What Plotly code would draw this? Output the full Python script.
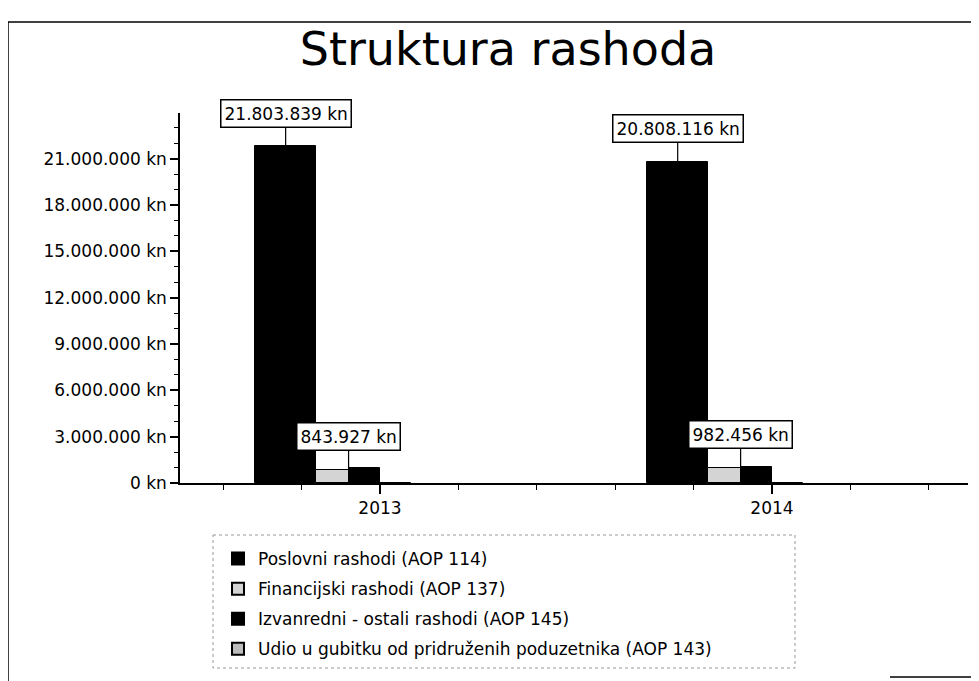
import plotly.graph_objects as go

# data
years = ["2013", "2014"]
series_names = [
    "Poslovni rashodi (AOP 114)",
    "Financijski rashodi (AOP 137)",
    "Izvanredni - ostali rashodi (AOP 145)",
    "Udio u gubitku od pridruženih poduzetnika (AOP 143)",
]
poslovni = [21803839, 20808116]
financijski = [843927, 982456]
izvanredni = [950000, 1050000]
udio = [0, 0]
y_tick_step = 3000000

FONT = "DejaVu Sans"


def kn(v):
    return f"{v:,.0f}".replace(",", ".") + " kn"


x_pos = list(range(len(years)))

# bar look: colour, offset and width (in category units)
bar_style = [
    ("#000000", -0.318, 0.155),
    ("#d4d4d4", -0.162, 0.082),
    ("#000000", -0.080, 0.080),
    ("#bdbdbd", 0.000, 0.080),
]

fig = go.Figure()
for name, vals, (color, off, w) in zip(series_names, [poslovni, financijski, izvanredni, udio], bar_style):
    fig.add_trace(go.Bar(
        x=x_pos, y=vals, name=name, legendgroup=name,
        offset=off, width=w,
        marker=dict(color=color, line=dict(color="#000000", width=1)),
    ))

# value labels (boxed, with a leader line)
ann = []
for i in x_pos:
    ann.append(dict(x=i + bar_style[0][1] + bar_style[0][2] / 2, y=poslovni[i], text=kn(poslovni[i])))
    ann.append(dict(x=i - 0.080, y=financijski[i], text=kn(financijski[i])))
annotations = []
for a in ann:
    annotations.append(dict(
        x=a["x"], y=a["y"], xref="x", yref="y", text=a["text"],
        showarrow=True, arrowhead=0, arrowwidth=1.2, arrowcolor="#000",
        ax=0, ay=-33, bgcolor="white", bordercolor="#000", borderwidth=1.5,
        borderpad=3, font=dict(family=FONT, size=17, color="#000"),
    ))

# the page body has an 8px margin, so figure coords = screen coords - 8
OFF = 8
W, H = 979 - OFF, 681 - OFF
L, R, T, B = 180 - OFF, 979 - 968, 113 - OFF, 681 - 483
pw, ph = W - L - R, H - T - B


def px(xs):
    return (xs - OFF - L) / pw


def py(ys):
    return (H - B - (ys - OFF)) / ph


shapes = [
    # outer frame (left + top) and bottom-right fragment
    dict(type="line", xref="paper", yref="paper", x0=px(8), x1=px(8), y0=py(22), y1=py(690), line=dict(color="#000", width=1.5)),
    dict(type="line", xref="paper", yref="paper", x0=px(8), x1=px(990), y0=py(22), y1=py(22), line=dict(color="#000", width=1.5)),
    dict(type="line", xref="paper", yref="paper", x0=px(890), x1=px(990), y0=py(677), y1=py(677), line=dict(color="#000", width=1.5)),
    # dotted legend frame
    dict(type="rect", xref="paper", yref="paper", x0=px(213), x1=px(795), y0=py(535), y1=py(668),
         line=dict(color="#999", width=1, dash="dot")),
]

y_max = 23950000
fig.update_layout(
    width=W, height=H,
    margin=dict(l=L, r=R, t=T, b=B),
    paper_bgcolor="white", plot_bgcolor="white",
    separators=",.",
    font=dict(family=FONT, size=17, color="#000"),
    title=dict(text="Struktura rashoda", x=(508 - OFF) / W, xref="container", y=1 - (49 - OFF) / H, yref="container",
               xanchor="center", yanchor="middle", font=dict(family=FONT, size=46, color="#000")),
    showlegend=True,
    legend=dict(x=px(218), y=py(541), xanchor="left", yanchor="top", traceorder="grouped",
                tracegroupgap=5, bgcolor="rgba(0,0,0,0)", font=dict(family=FONT, size=17, color="#000"),
                itemsizing="constant"),
    annotations=annotations,
    shapes=shapes,
    xaxis=dict(range=[-0.51, 1.5], tickvals=x_pos, ticktext=years, showgrid=False, zeroline=False,
               showline=True, linecolor="#000", linewidth=1.5, ticks="outside", ticklen=9,
               tickcolor="#000", tickwidth=1.5,
               minor=dict(dtick=0.2, tick0=0, ticks="outside", ticklen=5, tickcolor="#000", tickwidth=1),
               tickfont=dict(family=FONT, size=17)),
    yaxis=dict(range=[0, y_max], dtick=y_tick_step, tick0=0, tickformat=",.0f", ticksuffix=" kn",
               showgrid=False, zeroline=False, showline=True, linecolor="#000", linewidth=1.5,
               ticks="outside", ticklen=8, tickcolor="#000", tickwidth=1.5,
               minor=dict(dtick=1000000, ticks="outside", ticklen=4, tickcolor="#000", tickwidth=1),
               tickfont=dict(family=FONT, size=17)),
    bargap=0,
)

fig.write_html("out.html")
